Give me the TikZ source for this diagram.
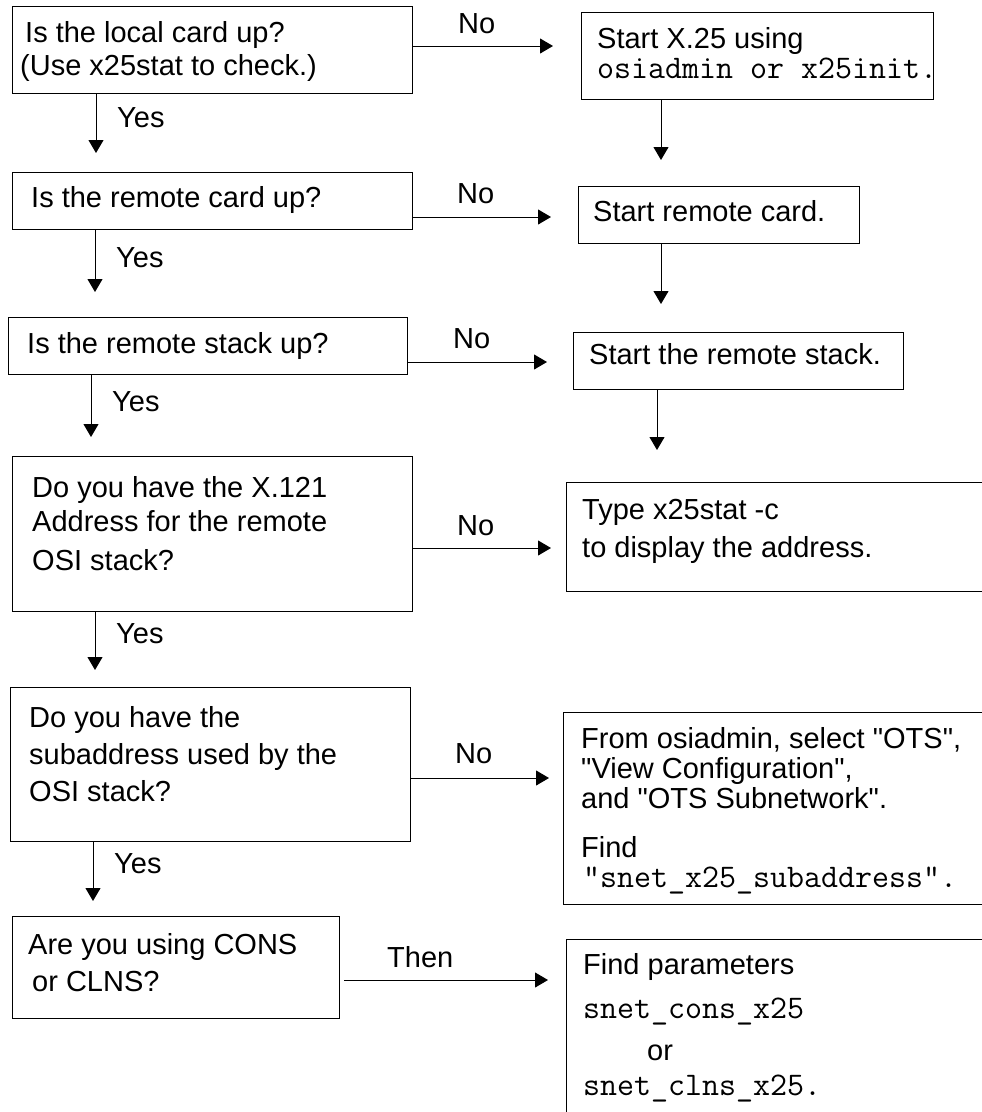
\documentclass[tikz,border=0pt]{standalone}
\usepackage{fontspec}
\setmainfont{Liberation Sans}
\usetikzlibrary{arrows.meta}

\newcommand{\dq}{\textquotedbl}

\begin{document}
\begin{tikzpicture}[x=1pt,y=-1pt,
  box/.style={draw=black, line width=1.3pt, inner sep=0pt, anchor=north west},
  lbl/.style={anchor=base west, inner sep=0pt, font=\fontsize{29}{34}\selectfont},
  code/.style={anchor=base west, inner sep=0pt, font=\fontsize{33}{38}\selectfont\ttfamily},
  flow/.style={line width=1pt, -{Triangle[length=13pt,width=15pt]}},
]
\useasboundingbox (0,0) rectangle (982,1112);
\clip (0,0) rectangle (982,1112);

% question boxes (left column)
\node[box, minimum width=400pt, minimum height=87pt]  (b1)  at (12,6)   {};
\node[box, minimum width=400pt, minimum height=57pt]  (b3)  at (12,172) {};
\node[box, minimum width=399pt, minimum height=57pt]  (b5)  at (8,317)  {};
\node[box, minimum width=400pt, minimum height=155pt] (b7)  at (12,456) {};
\node[box, minimum width=400pt, minimum height=154pt] (b9)  at (10,687) {};
\node[box, minimum width=327pt, minimum height=102pt] (b11) at (12,916) {};

% action boxes (right column)
\node[box, minimum width=352pt, minimum height=87pt]  (b2)  at (581,12)  {};
\node[box, minimum width=281pt, minimum height=57pt]  (b4)  at (578,186) {};
\node[box, minimum width=330pt, minimum height=57pt]  (b6)  at (573,332) {};
\node[box, minimum width=420pt, minimum height=109pt] (b8)  at (566,482) {};
\node[box, minimum width=423pt, minimum height=192pt] (b10) at (563,712) {};
\node[box, minimum width=420pt, minimum height=190pt] (b12) at (566,939) {};

% box texts
\node[lbl] (t1a) at (25,42) {Is the local card up?};
\node[lbl] (t1b) at (20,75) {(Use x25stat to check.)};
\node[lbl] (t2a) at (597,48) {Start X.25 using};
\node[code] (t2b) at (597,78) {osiadmin or x25init.};
\node[lbl] (t3) at (31,207) {Is the remote card up?};
\node[lbl] (t4) at (593,221) {Start remote card.};
\node[lbl] (t5) at (27,353) {Is the remote stack up?};
\node[lbl] (t6) at (589,364) {Start the remote stack.};
\node[lbl] (t7a) at (32,497) {Do you have the X.121};
\node[lbl] (t7b) at (32,531) {Address for the remote};
\node[lbl] (t7c) at (32,570) {OSI stack?};
\node[lbl] (t8a) at (582,519) {Type x25stat -c};
\node[lbl] (t8b) at (582,557) {to display the address.};
\node[lbl] (t9a) at (29,727) {Do you have the};
\node[lbl] (t9b) at (29,764) {subaddress used by the};
\node[lbl] (t9c) at (29,801) {OSI stack?};
\node[lbl] (t10a) at (581,748) {From osiadmin, select \dq OTS\dq,};
\node[lbl] (t10b) at (581,778) {\dq View Configuration\dq,};
\node[lbl] (t10c) at (581,808) {and \dq OTS Subnetwork\dq.};
\node[lbl] (t10d) at (581,857) {Find};
\node[code] (t10e) at (583,887) {\dq snet\_x25\_subaddress\dq.};
\node[lbl] (t11a) at (28,954) {Are you using CONS};
\node[lbl] (t11b) at (32,991) {or CLNS?};
\node[lbl] (t12a) at (583,974) {Find parameters};
\node[code] (t12b) at (583,1018) {snet\_cons\_x25};
\node[lbl] (t12c) at (647,1060) {or};
\node[code] (t12d) at (583,1095) {snet\_clns\_x25.};

% arrow end points
\coordinate (n1) at (553,46);
\coordinate (n2) at (551,217);
\coordinate (n3) at (547,362);
\coordinate (n4) at (551,548);
\coordinate (n5) at (549,778);
\coordinate (n6) at (548,980);
\coordinate (y1) at (96,153);
\coordinate (y2) at (95,292);
\coordinate (y3) at (91,437);
\coordinate (y4) at (95,670);
\coordinate (y5) at (93,901);
\coordinate (d1) at (661,160);
\coordinate (d2) at (661,304);
\coordinate (d3) at (657,450);

% "No" / "Then" branches
\draw[flow] (b1.east |- n1) -- (n1);
\draw[flow] (b3.east |- n2) -- (n2);
\draw[flow] (b5.east |- n3) -- (n3);
\draw[flow] (b7.east |- n4) -- (n4);
\draw[flow] (b9.east |- n5) -- (n5);
\draw[flow, shorten <=4pt] (b11.east |- n6) -- (n6);

% "Yes" branches
\draw[flow] (y1 |- b1.south) -- (y1);
\draw[flow] (y2 |- b3.south) -- (y2);
\draw[flow] (y3 |- b5.south) -- (y3);
\draw[flow] (y4 |- b7.south) -- (y4);
\draw[flow] (y5 |- b9.south) -- (y5);

% arrows leaving the action boxes
\draw[flow] (d1 |- b2.south) -- (d1);
\draw[flow] (d2 |- b4.south) -- (d2);
\draw[flow] (d3 |- b6.south) -- (d3);

% branch labels
\node[lbl] (no1) at (458,33) {No};
\node[lbl] (no2) at (457,203) {No};
\node[lbl] (no3) at (453,348) {No};
\node[lbl] (no4) at (457,535) {No};
\node[lbl] (no5) at (455,763) {No};
\node[lbl] (then) at (387,967) {Then};
\node[lbl] (yes1) at (117,127) {Yes};
\node[lbl] (yes2) at (116,267) {Yes};
\node[lbl] (yes3) at (112,411) {Yes};
\node[lbl] (yes4) at (116,643) {Yes};
\node[lbl] (yes5) at (114,873) {Yes};
\end{tikzpicture}
\end{document}
